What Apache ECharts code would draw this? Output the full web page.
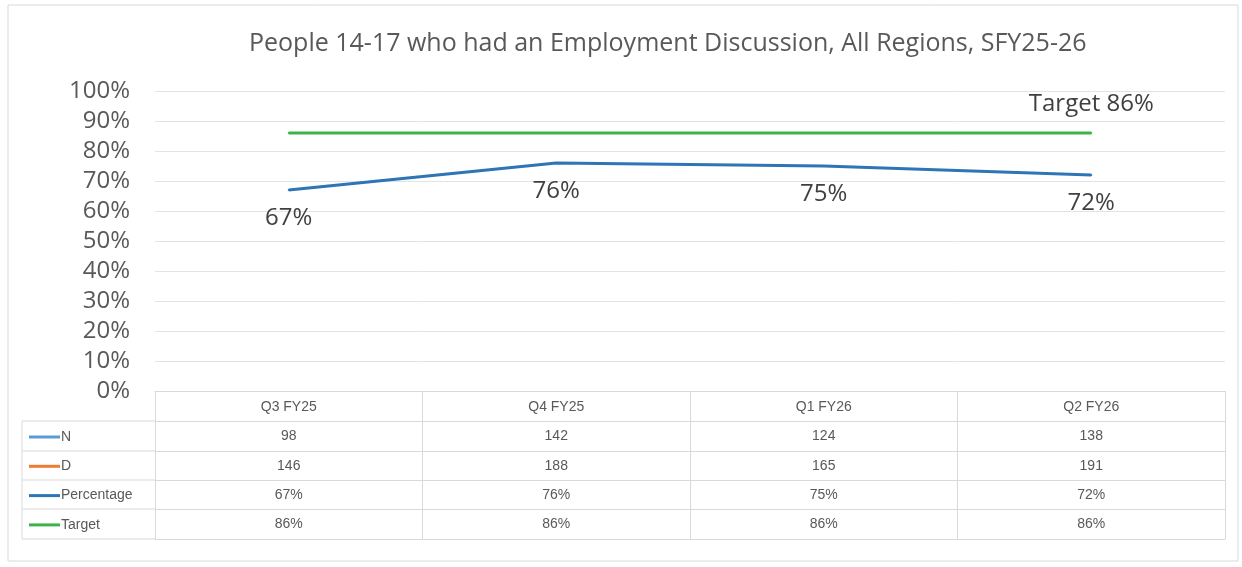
<!DOCTYPE html>
<html><head><meta charset="utf-8">
<script src="https://cdn.jsdelivr.net/npm/echarts@6/dist/echarts.min.js"></script>
<style>html,body{margin:0;padding:0;background:#fff}#c{width:1242px;height:567px}</style>
</head><body><div id="c"></div>
<script>
const titleText = 'People 14-17 who had an Employment Discussion, All Regions, SFY25-26';
const categories = ['Q3 FY25', 'Q4 FY25', 'Q1 FY26', 'Q2 FY26'];
const nValues = [98, 142, 124, 138];
const dValues = [146, 188, 165, 191];
const percentage = [67, 76, 75, 72];
const target = [86, 86, 86, 86];
const rowNames = ['N', 'D', 'Percentage', 'Target'];
const rowColors = ['#5b9bd5', '#ed7d31', '#2e75b6', '#3cb44b'];
const targetLabel = 'Target 86%';

const FONT = '"Liberation Sans", Arial, sans-serif';
const AXFONT = '"Open Sans", "Noto Sans", sans-serif';
const GRID = {left: 155, right: 17, top: 91, bottom: 176};
const rowOffsets = [30, 60, 89, 118];
const lineColor = '#d9d9d9';

const rows = [
  {vals: nValues, fmt: v => String(v)},
  {vals: dValues, fmt: v => String(v)},
  {vals: percentage, fmt: v => v + '%'},
  {vals: target, fmt: v => v + '%'}
];

const xAxes = [{
  type: 'category', data: categories, gridIndex: 0, position: 'bottom',
  axisLine: {show: true, lineStyle: {color: lineColor, width: 1}},
  axisTick: {show: true, interval: 0, length: 148, lineStyle: {color: lineColor}},
  axisLabel: {margin: 9, color: '#595959', fontSize: 14, fontFamily: FONT}
}];
rows.forEach((r, k) => {
  xAxes.push({
    type: 'category', data: categories, gridIndex: 0, position: 'bottom', offset: rowOffsets[k],
    axisLine: {show: true, lineStyle: {color: lineColor, width: 1}},
    axisTick: {show: false},
    axisLabel: {margin: 8, color: '#595959', fontSize: 14, fontFamily: FONT,
      formatter: (v, i) => r.fmt(r.vals[i])}
  });
});
xAxes.push({
  type: 'category', data: categories, gridIndex: 0, position: 'bottom', offset: 148,
  axisLine: {show: true, lineStyle: {color: lineColor, width: 1}},
  axisTick: {show: false}, axisLabel: {show: false}
});

const graphics = [
  {type: 'rect', shape: {x: 8, y: 5, width: 1230, height: 556}, style: {fill: 'none', stroke: '#d9d9d9', lineWidth: 1}, silent: true},
  {type: 'line', shape: {x1: 22, y1: 421, x2: 22, y2: 539}, style: {stroke: lineColor, lineWidth: 1}}
];
[421, 451, 480, 509, 539].forEach(y => {
  graphics.push({type: 'line', shape: {x1: 22, y1: y, x2: 155, y2: y}, style: {stroke: lineColor, lineWidth: 1}});
});
rowNames.forEach((name, k) => {
  const yc = 437 + k * 29.3;
  graphics.push({type: 'line', shape: {x1: 29, y1: yc, x2: 60, y2: yc}, style: {stroke: rowColors[k], lineWidth: 3}});
  graphics.push({type: 'text', x: 61, y: yc, style: {text: name, fill: '#595959', font: '14px ' + FONT, verticalAlign: 'middle', align: 'left'}});
});

const chart = echarts.init(document.getElementById('c'));
chart.setOption({
  backgroundColor: '#fff',
  animation: false,
  title: {text: titleText, left: 244, top: 26,
    textStyle: {color: '#595959', fontSize: 25, fontWeight: 'normal', fontFamily: AXFONT}},
  grid: GRID,
  xAxis: xAxes,
  yAxis: {
    type: 'value', min: 0, max: 100, interval: 10,
    axisLine: {show: false}, axisTick: {show: false},
    axisLabel: {formatter: '{value}%', color: '#595959', fontSize: 24, fontFamily: AXFONT, margin: 25},
    splitLine: {lineStyle: {color: '#e3e3e3', width: 1}}
  },
  series: [
    {name: 'Percentage', type: 'line', data: percentage, symbol: 'circle', symbolSize: 2, showSymbol: true,
      itemStyle: {color: rowColors[2]},
      lineStyle: {color: rowColors[2], width: 3},
      labelLayout: {hideOverlap: false},
      label: {show: true, position: 'bottom', distance: 15, color: '#404040', fontSize: 24, fontFamily: AXFONT,
        formatter: p => p.value + '%'}},
    {name: 'Target', type: 'line', data: target, symbol: 'circle', symbolSize: 2, showSymbol: true,
      itemStyle: {color: rowColors[3]},
      lineStyle: {color: rowColors[3], width: 3},
      labelLayout: {hideOverlap: false},
      label: {show: true, position: 'top', distance: 16, color: '#404040', fontSize: 24, fontFamily: AXFONT,
        formatter: p => p.dataIndex === target.length - 1 ? targetLabel : ''}}
  ],
  graphic: graphics
});
</script></body></html>
